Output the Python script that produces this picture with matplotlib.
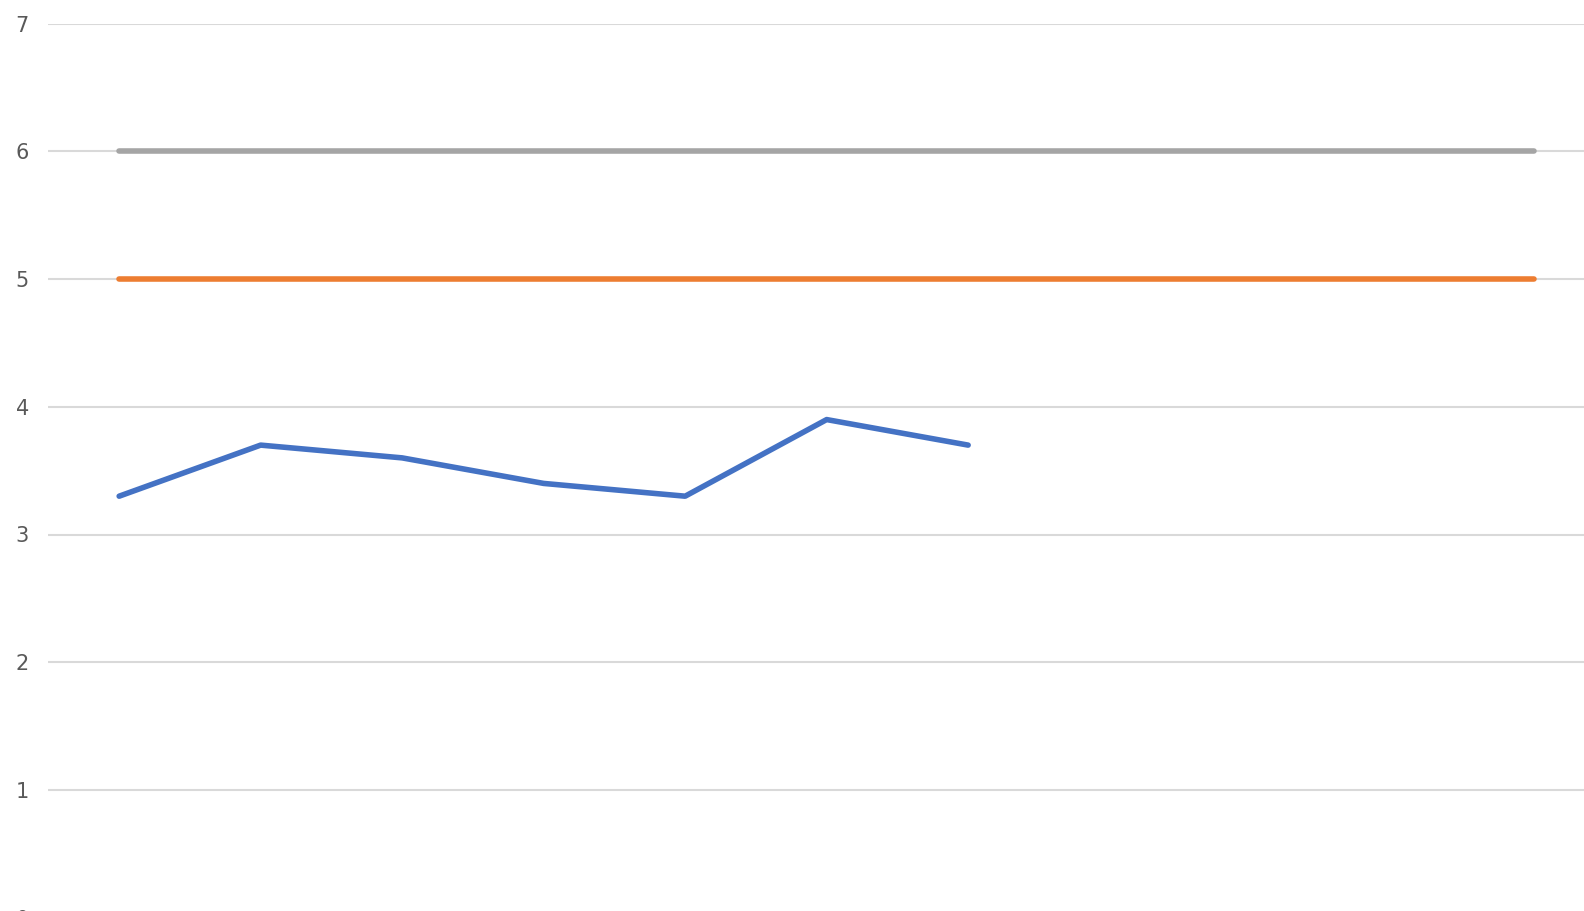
import matplotlib.pyplot as plt

# data
categories = list(range(11))
blue_vals = [3.3, 3.7, 3.6, 3.4, 3.3, 3.9, 3.7]
orange_vals = [5] * 11
gray_vals = [6] * 11
y_ticks = [0, 1, 2, 3, 4, 5, 6, 7]

fig = plt.figure(figsize=(15.84, 9.11), dpi=100)
# chart is cropped on the bottom and right, so the axes run past the figure edge
ax = fig.add_axes([48.4 / 1584, -6.6 / 911, 1556.5 / 1584, 893.9 / 911])

ax.plot(categories[:len(blue_vals)], blue_vals, color='#4472C4', lw=4,
        solid_capstyle='round', solid_joinstyle='round', zorder=3)
ax.plot(categories, orange_vals, color='#ED7D31', lw=4,
        solid_capstyle='round', zorder=3)
ax.plot(categories, gray_vals, color='#A5A5A5', lw=4,
        solid_capstyle='round', zorder=3)

ax.set_xlim(-0.5, 10.5)
ax.set_ylim(0, 7)
ax.set_yticks(y_ticks)
ax.set_xticks([])
ax.grid(axis='y', color='#D9D9D9', lw=1.5, zorder=0)
ax.tick_params(axis='y', length=0, pad=14, labelsize=15, labelcolor='#595959')
for s in ax.spines.values():
    s.set_visible(False)

fig.savefig('out.png', dpi=100)
